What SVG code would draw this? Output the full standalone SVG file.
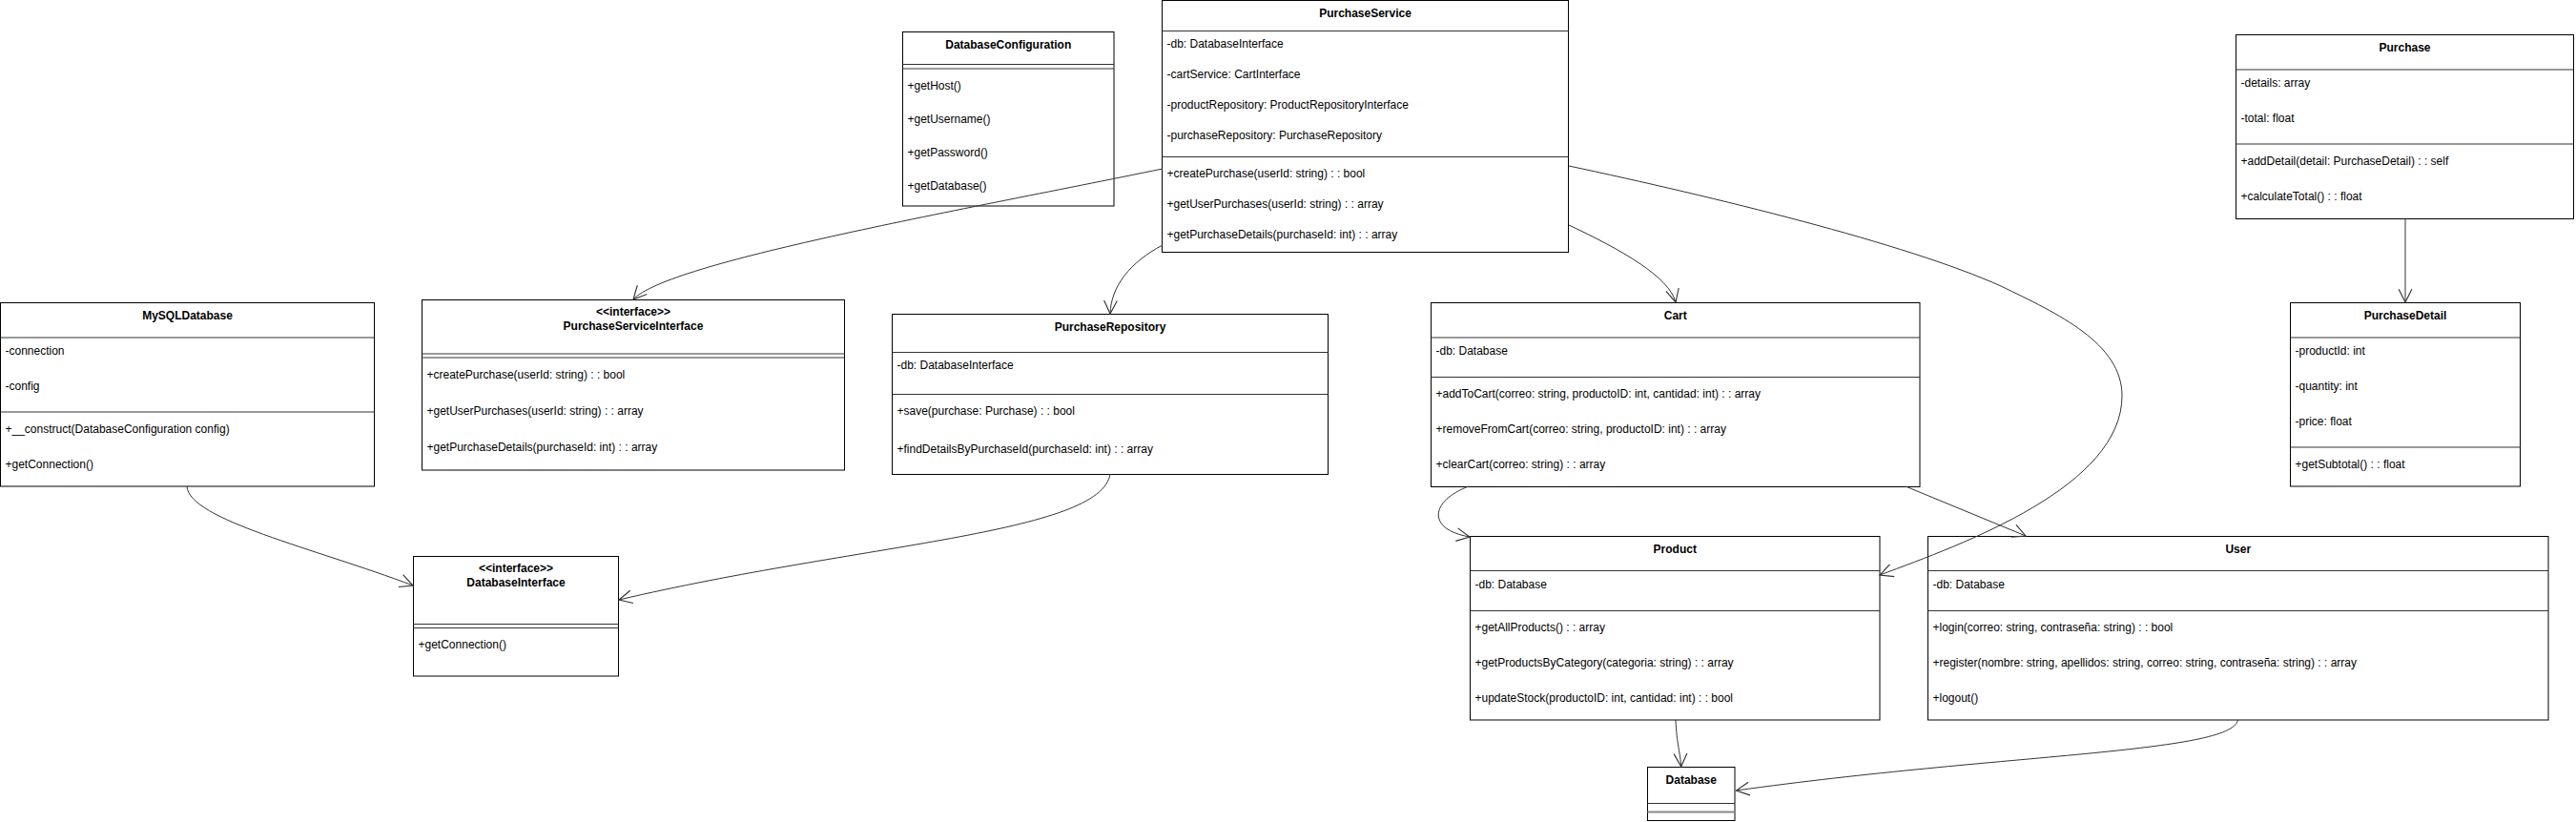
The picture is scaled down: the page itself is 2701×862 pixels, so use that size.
<svg xmlns="http://www.w3.org/2000/svg" width="2701" height="862" viewBox="0 0 2701 862">
<defs>
<style>
.box{fill:#fff;stroke:#000;stroke-width:1}
.sep{stroke:#333;stroke-width:1}
.t{font-family:"Liberation Sans",Arial,sans-serif;font-size:12px;font-weight:bold;fill:#000;text-anchor:middle}
.m{font-family:"Liberation Sans",Arial,sans-serif;font-size:12px;fill:#000}
.e{fill:none;stroke:#333;stroke-width:1;marker-end:url(#arr)}
</style>
<marker id="arr" markerUnits="userSpaceOnUse" markerWidth="16" markerHeight="16" viewBox="0 0 14 14" refX="13" refY="7" orient="auto">
<path d="M1,1 L13,7 L1,13" fill="none" stroke="#333" stroke-width="1"/>
</marker>
</defs>
<rect width="2701" height="862" fill="#fff"/>

<g id="DatabaseConfiguration">
<rect class="box" x="946.5" y="33.5" width="221.5" height="182.5"/>
<line class="sep" x1="946.5" y1="67.5" x2="1168" y2="67.5"/>
<line class="sep" x1="946.5" y1="72" x2="1168" y2="72"/>
<text class="t" x="1057.25" y="51">DatabaseConfiguration</text>
<text class="m" x="951.5" y="94">+getHost()</text>
<text class="m" x="951.5" y="129">+getUsername()</text>
<text class="m" x="951.5" y="164">+getPassword()</text>
<text class="m" x="951.5" y="199">+getDatabase()</text>
</g>

<g id="PurchaseService">
<rect class="box" x="1218.5" y="0.5" width="426" height="264"/>
<line class="sep" x1="1218.5" y1="32.5" x2="1644.5" y2="32.5"/>
<line class="sep" x1="1218.5" y1="164.5" x2="1644.5" y2="164.5"/>
<text class="t" x="1431.5" y="18">PurchaseService</text>
<text class="m" x="1223.5" y="50">-db: DatabaseInterface</text>
<text class="m" x="1223.5" y="82">-cartService: CartInterface</text>
<text class="m" x="1223.5" y="114">-productRepository: ProductRepositoryInterface</text>
<text class="m" x="1223.5" y="146">-purchaseRepository: PurchaseRepository</text>
<text class="m" x="1223.5" y="186">+createPurchase(userId: string) : : bool</text>
<text class="m" x="1223.5" y="218">+getUserPurchases(userId: string) : : array</text>
<text class="m" x="1223.5" y="250">+getPurchaseDetails(purchaseId: int) : : array</text>
</g>

<g id="Purchase">
<rect class="box" x="2344.5" y="36.5" width="354" height="193"/>
<line class="sep" x1="2344.5" y1="73" x2="2698.5" y2="73"/>
<line class="sep" x1="2344.5" y1="151" x2="2698.5" y2="151"/>
<text class="t" x="2521.5" y="53.5">Purchase</text>
<text class="m" x="2349.5" y="90.5">-details: array</text>
<text class="m" x="2349.5" y="127.5">-total: float</text>
<text class="m" x="2349.5" y="172.5">+addDetail(detail: PurchaseDetail) : : self</text>
<text class="m" x="2349.5" y="209.5">+calculateTotal() : : float</text>
</g>

<g id="MySQLDatabase">
<rect class="box" x="0.5" y="317.5" width="392" height="192.5"/>
<line class="sep" x1="0.5" y1="354" x2="392.5" y2="354"/>
<line class="sep" x1="0.5" y1="432" x2="392.5" y2="432"/>
<text class="t" x="196.5" y="334.5">MySQLDatabase</text>
<text class="m" x="5.5" y="371.5">-connection</text>
<text class="m" x="5.5" y="409">-config</text>
<text class="m" x="5.5" y="454">+__construct(DatabaseConfiguration config)</text>
<text class="m" x="5.5" y="490.5">+getConnection()</text>
</g>

<g id="PurchaseServiceInterface">
<rect class="box" x="442.5" y="314.5" width="443" height="178.5"/>
<line class="sep" x1="442.5" y1="371" x2="885.5" y2="371"/>
<line class="sep" x1="442.5" y1="375" x2="885.5" y2="375"/>
<text class="t" x="664" y="331">&lt;&lt;interface&gt;&gt;</text>
<text class="t" x="664" y="345.5">PurchaseServiceInterface</text>
<text class="m" x="447.5" y="396.5">+createPurchase(userId: string) : : bool</text>
<text class="m" x="447.5" y="434.5">+getUserPurchases(userId: string) : : array</text>
<text class="m" x="447.5" y="473">+getPurchaseDetails(purchaseId: int) : : array</text>
</g>

<g id="PurchaseRepository">
<rect class="box" x="935.5" y="329.5" width="457" height="168"/>
<line class="sep" x1="935.5" y1="369.5" x2="1392.5" y2="369.5"/>
<line class="sep" x1="935.5" y1="413.5" x2="1392.5" y2="413.5"/>
<text class="t" x="1164" y="346.5">PurchaseRepository</text>
<text class="m" x="940.5" y="386.5">-db: DatabaseInterface</text>
<text class="m" x="940.5" y="435">+save(purchase: Purchase) : : bool</text>
<text class="m" x="940.5" y="475">+findDetailsByPurchaseId(purchaseId: int) : : array</text>
</g>

<g id="Cart">
<rect class="box" x="1500.5" y="317.5" width="512.5" height="193"/>
<line class="sep" x1="1500.5" y1="354" x2="2013" y2="354"/>
<line class="sep" x1="1500.5" y1="395.5" x2="2013" y2="395.5"/>
<text class="t" x="1756.75" y="334.5">Cart</text>
<text class="m" x="1505.5" y="371.5">-db: Database</text>
<text class="m" x="1505.5" y="416.5">+addToCart(correo: string, productoID: int, cantidad: int) : : array</text>
<text class="m" x="1505.5" y="454">+removeFromCart(correo: string, productoID: int) : : array</text>
<text class="m" x="1505.5" y="490.5">+clearCart(correo: string) : : array</text>
</g>

<g id="PurchaseDetail">
<rect class="box" x="2401.5" y="317.5" width="241" height="192.5"/>
<line class="sep" x1="2401.5" y1="354" x2="2642.5" y2="354"/>
<line class="sep" x1="2401.5" y1="469" x2="2642.5" y2="469"/>
<text class="t" x="2522" y="334.5">PurchaseDetail</text>
<text class="m" x="2406.5" y="371.5">-productId: int</text>
<text class="m" x="2406.5" y="409">-quantity: int</text>
<text class="m" x="2406.5" y="445.5">-price: float</text>
<text class="m" x="2406.5" y="490.5">+getSubtotal() : : float</text>
</g>

<g id="DatabaseInterface">
<rect class="box" x="433.5" y="583.5" width="215" height="125.5"/>
<line class="sep" x1="433.5" y1="654.5" x2="648.5" y2="654.5"/>
<line class="sep" x1="433.5" y1="658.5" x2="648.5" y2="658.5"/>
<text class="t" x="541" y="600">&lt;&lt;interface&gt;&gt;</text>
<text class="t" x="541" y="614.5">DatabaseInterface</text>
<text class="m" x="438.5" y="680">+getConnection()</text>
</g>

<g id="Product">
<rect class="box" x="1541.5" y="562.5" width="429.5" height="192.5"/>
<line class="sep" x1="1541.5" y1="598.5" x2="1971" y2="598.5"/>
<line class="sep" x1="1541.5" y1="640.5" x2="1971" y2="640.5"/>
<text class="t" x="1756.25" y="579.5">Product</text>
<text class="m" x="1546.5" y="616.5">-db: Database</text>
<text class="m" x="1546.5" y="661.5">+getAllProducts() : : array</text>
<text class="m" x="1546.5" y="698.5">+getProductsByCategory(categoria: string) : : array</text>
<text class="m" x="1546.5" y="736">+updateStock(productoID: int, cantidad: int) : : bool</text>
</g>

<g id="User">
<rect class="box" x="2021.5" y="562.5" width="650.5" height="192.5"/>
<line class="sep" x1="2021.5" y1="598.5" x2="2672" y2="598.5"/>
<line class="sep" x1="2021.5" y1="640.5" x2="2672" y2="640.5"/>
<text class="t" x="2346.75" y="579.5">User</text>
<text class="m" x="2026.5" y="616.5">-db: Database</text>
<text class="m" x="2026.5" y="661.5">+login(correo: string, contraseña: string) : : bool</text>
<text class="m" x="2026.5" y="698.5">+register(nombre: string, apellidos: string, correo: string, contraseña: string) : : array</text>
<text class="m" x="2026.5" y="736">+logout()</text>
</g>

<g id="Database">
<rect class="box" x="1727.5" y="804.5" width="91.5" height="56"/>
<line class="sep" x1="1727.5" y1="842.5" x2="1819" y2="842.5"/>
<line x1="1727.5" y1="851.5" x2="1819" y2="851.5" stroke="#888" stroke-width="2"/>
<text class="t" x="1773.25" y="821.5">Database</text>
</g>

<g id="connectors">
<path class="e" d="M1219,177 C1000,222 700,275 664,314"/>
<path class="e" d="M1219,257 C1185,275 1165,300 1164,329"/>
<path class="e" d="M1645,236 C1700,262 1750,290 1757,317"/>
<path class="e" d="M1645,174 C1795,206 1998,255 2098,300 C2158,329 2225,360 2225,415 C2225,510 2060,570 1971,603"/>
<path class="e" d="M1540,510 C1500,525 1495,555 1541,563"/>
<path class="e" d="M1998,510 L2124,562"/>
<path class="e" d="M2522,229.5 L2522,317"/>
<path class="e" d="M196,510 C198,545 330,575 433,614"/>
<path class="e" d="M1164,497 C1155,560 900,570 649,629"/>
<path class="e" d="M1757,755 C1758,780 1762,790 1762.7,804"/>
<path class="e" d="M2346.5,755 C2340,790 2100,790 1820.5,829"/>
</g>
</svg>
